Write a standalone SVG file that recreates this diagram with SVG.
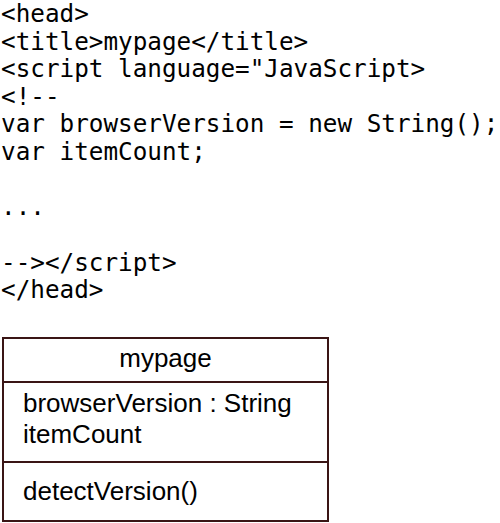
<svg xmlns="http://www.w3.org/2000/svg" width="500" height="523" viewBox="0 0 500 523">
<style>
.code{font-family:"DejaVu Sans Mono","Liberation Mono",monospace;font-size:24.3px;fill:#000}
.uml{font-family:"Liberation Sans",Arial,sans-serif;font-size:26px;fill:#000}
.box{fill:#fff;stroke:#3a1515;stroke-width:2}
</style>
<rect width="500" height="523" fill="#fff"/>
<g id="code" class="code" xml:space="preserve">
<text x="1" y="22">&lt;head&gt;</text>
<text x="1" y="49.5">&lt;title&gt;mypage&lt;/title&gt;</text>
<text x="1" y="77">&lt;script language="JavaScript&gt;</text>
<text x="1" y="104.5">&lt;!--</text>
<text x="1" y="132">var browserVersion = new String();</text>
<text x="1" y="159.5">var itemCount;</text>
<text x="1" y="214.5">...</text>
<text x="1" y="270.5">--&gt;&lt;/script&gt;</text>
<text x="1" y="298">&lt;/head&gt;</text>
</g>
<g id="mypage">
<rect class="box" x="3" y="338" width="325" height="183"/>
<line class="box" x1="3" y1="382" x2="328" y2="382"/>
<line class="box" x1="3" y1="462" x2="328" y2="462"/>
<text class="uml" x="165.5" y="367" text-anchor="middle">mypage</text>
<text class="uml" x="23" y="412">browserVersion : String</text>
<text class="uml" x="23" y="443">itemCount</text>
<text class="uml" x="23" y="500">detectVersion()</text>
</g>
</svg>
